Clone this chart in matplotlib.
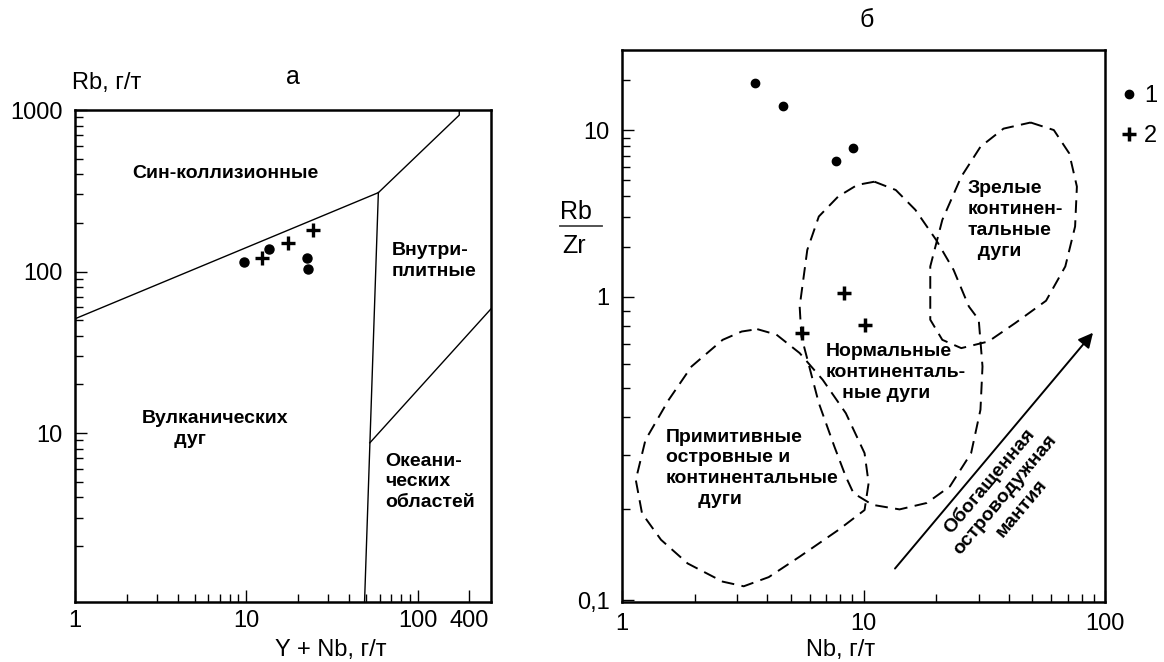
import numpy as np
import matplotlib
matplotlib.use('Agg')
import matplotlib.pyplot as plt
from matplotlib.lines import Line2D

plt.rcParams['font.family'] = ['Liberation Sans', 'DejaVu Sans']

# --- а: Rb - (Y+Nb) ---
a_dot_ynb = [9.7, 13.6, 22.6, 23.0]
a_dot_rb = [115, 137, 122, 104]
a_cross_ynb = [12.4, 17.5, 24.5]
a_cross_rb = [122, 151, 182]

# границы полей
syn_vag_x = [1, 59]
syn_vag_y = [51, 308]
syn_wpg_x = [59, 175, 175]
syn_wpg_y = [308, 930, 1000]
vag_wpg_x = [59, 49]
vag_wpg_y = [308, 0.9]
org_wpg_x = [52.6, 269]
org_wpg_y = [8.7, 59]

# --- б: Rb/Zr - Nb ---
b_dot_nb = [3.57, 4.66, 7.69, 9.03]
b_dot_rbzr = [19.2, 14.0, 6.52, 7.84]
b_cross_nb = [8.3, 10.1, 5.54]
b_cross_rbzr = [1.05, 0.81, 0.76]

# контуры полей (пунктир)
prim_nb = [3.63, 4.36, 5.44, 6.78, 8.45, 10.1, 10.5, 10.1, 7.85, 5.44, 4.05,
           3.19, 2.61, 1.87, 1.45, 1.21, 1.14, 1.25, 1.56, 1.94, 2.61, 3.13, 3.63]
prim_rz = [0.782, 0.750, 0.652, 0.532, 0.413, 0.305, 0.243, 0.198, 0.170, 0.139, 0.119,
           0.111, 0.115, 0.132, 0.158, 0.193, 0.249, 0.337, 0.457, 0.589, 0.721, 0.768, 0.782]

norm_nb = [11.1, 13.6, 16.4, 20.0, 23.6, 27.3, 30.0, 31.1, 30.5, 27.9, 22.8, 18.3, 14.1,
           10.9, 9.09, 8.45, 7.57, 6.53, 5.96, 5.53, 5.44, 5.85, 6.53, 7.85, 9.43, 11.1]
norm_rz = [4.90, 4.37, 3.32, 2.19, 1.45, 0.929, 0.840, 0.589, 0.424, 0.305, 0.237, 0.209, 0.199,
           0.206, 0.225, 0.255, 0.321, 0.446, 0.589, 0.740, 0.929, 1.91, 3.03, 3.99, 4.69, 4.90]

mature_nb = [49.2, 61.4, 71.1, 76.5, 75.2, 68.5, 57.0, 42.5, 32.9, 25.4, 21.2, 18.9,
             18.9, 21.2, 25.4, 30.5, 38.0, 49.2]
mature_rz = [11.1, 10.0, 7.25, 4.58, 2.64, 1.52, 0.97, 0.819, 0.712, 0.677, 0.721, 0.840,
             1.52, 2.89, 5.25, 7.94, 10.2, 11.1]

arrow_nb = [13.5, 89.2]
arrow_rz = [0.127, 0.761]

fig = plt.figure(figsize=(11.64, 6.62), dpi=100)
ax1 = fig.add_axes([0.0644, 0.0906, 0.3574, 0.7432])
ax2 = fig.add_axes([0.5344, 0.0906, 0.4149, 0.8338])

for ax in (ax1, ax2):
    for s in ax.spines.values():
        s.set_linewidth(1.8)
    ax.tick_params(which='both', direction='in', top=False, right=False,
                   width=1, labelsize=17, pad=6)
    ax.tick_params(which='major', length=8.5)
    ax.tick_params(which='minor', length=5.5)

# ---------- панель а ----------
ax1.set_xscale('log')
ax1.set_yscale('log')
ax1.set_xlim(1, 268)
ax1.set_ylim(0.9, 1000)

for xs, ys in [(syn_vag_x, syn_vag_y), (syn_wpg_x, syn_wpg_y),
               (vag_wpg_x, vag_wpg_y), (org_wpg_x, org_wpg_y)]:
    ax1.plot(xs, ys, color='k', lw=1.0)

ax1.plot(a_dot_ynb, a_dot_rb, 'o', color='k', ms=6.5, ls='none')
ax1.plot(a_cross_ynb, a_cross_rb, '+', color='k', ms=10, mew=2.4, ls='none')

ax1.set_xticks([1, 10, 100, 200], ['1', '10', '100', '400'])
ax1.set_xticks([2, 3, 4, 5, 6, 7, 8, 9, 20, 30, 40, 50, 60, 70, 80, 90], minor=True)
ax1.set_yticks([10, 100, 1000], ['10', '100', '1000'])
ax1.set_yticks([v * m for m in (1, 10, 100) for v in range(2, 10)], minor=True)
ax1.xaxis.set_minor_formatter(plt.NullFormatter())
ax1.yaxis.set_minor_formatter(plt.NullFormatter())
ax1.tick_params(axis='y', pad=9)

ax1.set_xlabel('Y + Nb, г/т', fontsize=17)
ax1.xaxis.set_label_coords(0.615, -0.0976)
ax1.xaxis.label.set_va('center')
ax1.text(-0.007, 1.055, 'Rb, г/т', transform=ax1.transAxes, fontsize=17,
         ha='left', va='center')
ax1.text(0.524, 1.067, 'а', transform=ax1.transAxes, fontsize=18,
         ha='center', va='center')

bold = dict(fontsize=14, fontweight='bold', ha='left', va='center',
            linespacing=1.3)
ax1.text(0.137, 0.872, 'Син-коллизионные', transform=ax1.transAxes, **bold)
ax1.text(0.762, 0.693, 'Внутри-\nплитные', transform=ax1.transAxes, **bold)
ax1.text(0.161, 0.351, 'Вулканических\n      дуг', transform=ax1.transAxes, **bold)
ax1.text(0.745, 0.244, 'Океани-\nческих\nобластей', transform=ax1.transAxes, **bold)

# ---------- панель б ----------
K = 303.3 / 166.7


def fwd(v):
    lv = np.log10(np.maximum(np.asarray(v, dtype=float), 1e-12))
    return np.where(lv < 0, lv * K, lv)


def inv(u):
    u = np.asarray(u, dtype=float)
    return np.where(u < 0, 10 ** (u / K), 10 ** u)


ax2.set_xscale('log')
ax2.set_yscale('function', functions=(fwd, inv))
ax2.set_xlim(1, 100)
ax2.set_ylim(0.0985, 30.2)

dash = dict(color='k', lw=1.4, dashes=(6.5, 3.8))
ax2.plot(prim_nb, prim_rz, **dash)
ax2.plot(norm_nb, norm_rz, **dash)
ax2.plot(mature_nb, mature_rz, **dash)

ax2.annotate('', xy=(arrow_nb[1], arrow_rz[1]), xytext=(arrow_nb[0], arrow_rz[0]),
             arrowprops=dict(arrowstyle='-|>', color='k', lw=1.4,
                             mutation_scale=22, shrinkA=0, shrinkB=0))

ax2.plot(b_dot_nb, b_dot_rbzr, 'o', color='k', ms=6, ls='none', label='1')
ax2.plot(b_cross_nb, b_cross_rbzr, '+', color='k', ms=9.5, mew=2.5, ls='none', label='2')

ax2.set_xticks([1, 10, 100], ['1', '10', '100'])
ax2.set_xticks([2, 3, 4, 5, 6, 7, 8, 9, 20, 30, 40, 50, 60, 70, 80, 90], minor=True)
ax2.xaxis.set_minor_formatter(plt.NullFormatter())
ax2.set_yticks([0.1, 1, 10], ['0,1', '1', '10'])
ax2.set_yticks([v * m for m in (0.1, 1) for v in range(2, 10)] + [20], minor=True)
ax2.yaxis.set_minor_formatter(plt.NullFormatter())
ax2.tick_params(axis='y', pad=9)
ax2.tick_params(axis='x', pad=8)

ax2.set_xlabel('Nb, г/т', fontsize=17)
ax2.xaxis.set_label_coords(0.453, -0.087)
ax2.xaxis.label.set_va('center')
# Rb/Zr дробью
ax2.text(-0.095, 0.7065, 'Rb', transform=ax2.transAxes, fontsize=18,
         ha='center', va='center')
ax2.text(-0.099, 0.645, 'Zr', transform=ax2.transAxes, fontsize=18,
         ha='center', va='center')
ax2.add_line(Line2D([-0.128, -0.041], [0.681, 0.681], transform=ax2.transAxes,
                    color='#444444', lw=1.3, clip_on=False))
ax2.text(0.507, 1.054, 'б', transform=ax2.transAxes, fontsize=18,
         ha='center', va='center')

ax2.text(0.715, 0.692, 'Зрелые\nконтинен-\nтальные\n  дуги', transform=ax2.transAxes, **bold)
ax2.text(0.422, 0.416, 'Нормальные\nконтиненталь-\n   ные дуги', transform=ax2.transAxes, **bold)
ax2.text(0.091, 0.242, 'Примитивные\nостровные и\nконтинентальные\n      дуги',
         transform=ax2.transAxes, **bold)
ax2.text(0.793, 0.194, 'Обогащенная\nостроводужная\nмантия', transform=ax2.transAxes,
         fontsize=14, fontweight='bold', ha='center', va='center',
         multialignment='center', rotation=50, rotation_mode='anchor', linespacing=1.3)

ax2.legend(loc='upper left', bbox_to_anchor=(1.035, 0.936), frameon=False,
           fontsize=17, handlelength=0.6, handletextpad=0.35, labelspacing=0.75,
           borderpad=0, borderaxespad=0)

fig.savefig('out.png', dpi=100)
